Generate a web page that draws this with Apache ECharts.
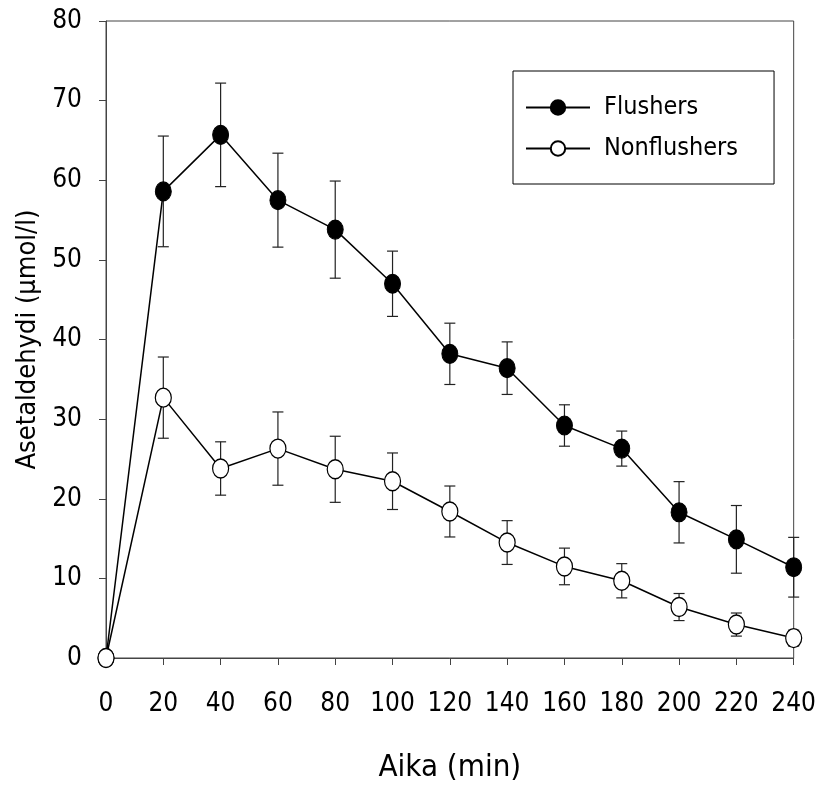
<!DOCTYPE html>
<html>
<head>
<meta charset="utf-8">
<title>Asetaldehydi</title>
<script src="https://cdn.jsdelivr.net/npm/echarts@6/dist/echarts.min.js"></script>
<style>
  html, body { margin: 0; padding: 0; background: #fff; }
  #main { width: 819px; height: 791px; }
</style>
</head>
<body>
<div id="main"></div>
<script>
// aika (min)
var times = [0, 20, 40, 60, 80, 100, 120, 140, 160, 180, 200, 220, 240];
// keskiarvot
var flushers = [0, 58.6, 65.7, 57.5, 53.8, 47.0, 38.2, 36.4, 29.2, 26.3, 18.3, 14.9, 11.4];
var flushersErr = [0, 6.95, 6.5, 5.9, 6.1, 4.1, 3.85, 3.3, 2.6, 2.2, 3.85, 4.25, 3.75];
var nonflushers = [0, 32.7, 23.8, 26.3, 23.7, 22.2, 18.4, 14.5, 11.5, 9.7, 6.4, 4.2, 2.5];
var nonflushersErr = [0, 5.1, 3.35, 4.6, 4.15, 3.55, 3.2, 2.75, 2.3, 2.15, 1.7, 1.45, 1.0];
var yTicks = [0, 10, 20, 30, 40, 50, 60, 70, 80];
var xTicks = times;

var FONT = "'DejaVu Sans Condensed', 'Liberation Sans', sans-serif";

function pairs(ys) {
    return times.map(function (t, i) { return [t, ys[i]]; });
}

function errData(ys, errs) {
    var out = [];
    times.forEach(function (t, i) {
        if (errs[i] > 0) {
            out.push([t, ys[i] - errs[i], ys[i] + errs[i]]);
        }
    });
    return out;
}

function renderErr(params, api) {
    var x = api.value(0);
    var lo = api.coord([x, api.value(1)]);
    var hi = api.coord([x, api.value(2)]);
    var half = 5.5;
    var style = { stroke: '#222', lineWidth: 1.2 };
    return {
        type: 'group',
        children: [
            { type: 'line', shape: { x1: hi[0], y1: hi[1], x2: lo[0], y2: lo[1] }, style: style },
            { type: 'line', shape: { x1: hi[0] - half, y1: hi[1], x2: hi[0] + half, y2: hi[1] }, style: style },
            { type: 'line', shape: { x1: lo[0] - half, y1: lo[1], x2: lo[0] + half, y2: lo[1] }, style: style }
        ]
    };
}

var myChart = echarts.init(document.getElementById('main'));
var option = {
    backgroundColor: '#fff',
    animation: false,
    grid: {
        left: 106,
        right: 18,
        top: 21,
        bottom: 133,
        show: true,
        borderColor: '#444',
        borderWidth: 1
    },
    legend: {
        orient: 'vertical',
        left: 513,
        top: 71,
        padding: [24, 36, 23, 12],
        itemGap: 16,
        itemWidth: 64,
        itemHeight: 18,
        borderColor: '#000',
        borderWidth: 1,
        backgroundColor: '#fff',
        data: ['Flushers', 'Nonflushers'],
        textStyle: { fontFamily: FONT, fontSize: 25, color: '#000', padding: [0, 0, 0, 9] }
    },
    xAxis: {
        type: 'value',
        min: 0,
        max: 240,
        interval: 20,
        name: 'Aika (min)',
        nameLocation: 'middle',
        nameGap: 94,
        nameTextStyle: { fontFamily: FONT, fontSize: 31, color: '#000' },
        axisLine: { lineStyle: { color: '#444', width: 1 } },
        axisTick: { show: true, length: 7, lineStyle: { color: '#444' } },
        axisLabel: {
            margin: 33,
            fontFamily: FONT,
            fontSize: 26,
            color: '#000',
            customValues: xTicks
        },
        splitLine: { show: false }
    },
    yAxis: {
        type: 'value',
        min: 0,
        max: 80,
        interval: 10,
        name: 'Asetaldehydi (µmol/l)',
        nameLocation: 'middle',
        nameGap: 64,
        nameTextStyle: { fontFamily: FONT, fontSize: 27, color: '#000' },
        axisLine: { show: true, lineStyle: { color: '#444', width: 1 } },
        axisTick: { show: true, length: 7, lineStyle: { color: '#444' } },
        axisLabel: {
            margin: 24,
            fontFamily: FONT,
            fontSize: 26,
            color: '#000',
            customValues: yTicks
        },
        splitLine: { show: false }
    },
    series: [
        {
            name: 'Flushers err',
            type: 'custom',
            renderItem: renderErr,
            data: errData(flushers, flushersErr),
            encode: { x: 0, y: [1, 2] },
            clip: false,
            z: 1
        },
        {
            name: 'Nonflushers err',
            type: 'custom',
            renderItem: renderErr,
            data: errData(nonflushers, nonflushersErr),
            encode: { x: 0, y: [1, 2] },
            clip: false,
            z: 1
        },
        {
            name: 'Flushers',
            type: 'line',
            data: pairs(flushers),
            symbol: 'circle',
            symbolSize: [16, 19],
            clip: false,
            z: 3,
            lineStyle: { color: '#000', width: 1.5 },
            itemStyle: { color: '#000', borderColor: '#000', borderWidth: 1 }
        },
        {
            name: 'Nonflushers',
            type: 'line',
            data: pairs(nonflushers),
            symbol: 'circle',
            symbolSize: [16, 19],
            clip: false,
            z: 4,
            lineStyle: { color: '#000', width: 1.5 },
            itemStyle: { color: '#fff', borderColor: '#000', borderWidth: 1.3 }
        }
    ]
};
myChart.setOption(option);
</script>
</body>
</html>
